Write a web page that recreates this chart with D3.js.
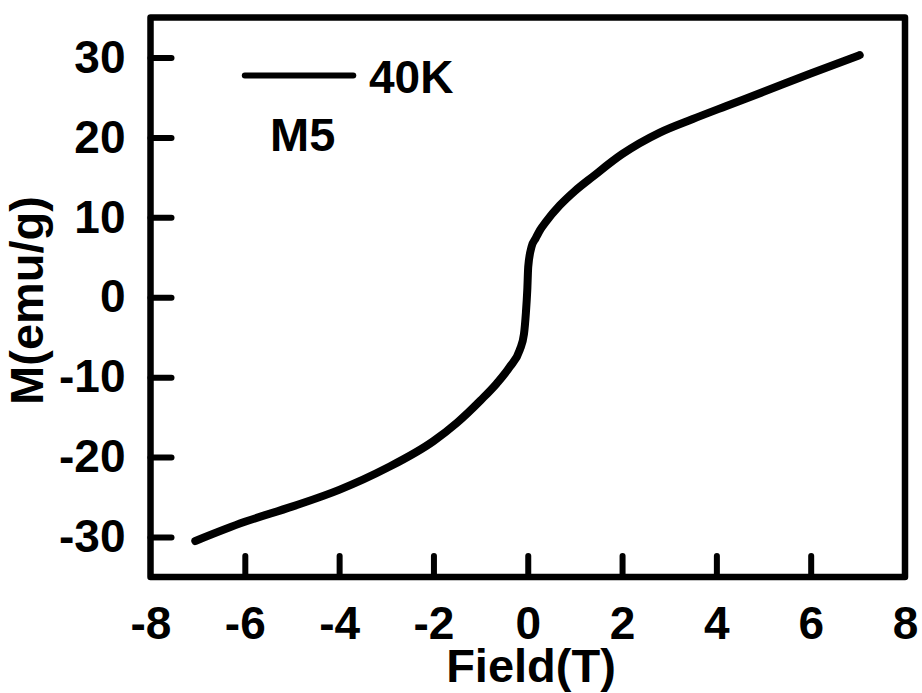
<!DOCTYPE html>
<html lang="en">
<head>
    <meta charset="UTF-8">
    <title>M-H curve M5 40K</title>
    <script src="https://cdnjs.cloudflare.com/ajax/libs/d3/7.8.5/d3.min.js"></script>
    <style>
        body {
            margin: 0;
            background: #fff;
        }
        svg text {
            font-family: "Liberation Sans", Arial, Helvetica, sans-serif;
            font-weight: bold;
            fill: #000;
        }
    </style>
</head>
<body>
    <div id="chart"></div>
    <script>
        const fieldValues = [-7.05, -6, -5, -4, -3, -2, -1.5, -1, -0.66, -0.38, -0.17, -0.08, -0.04, -0.01,
            0.01, 0.08, 0.17, 0.26, 0.38, 0.68, 1, 1.38, 2, 2.8, 3.5, 4.2, 5, 6, 7.04];
        const momentValues = [-30.5, -28.1, -26.2, -24.1, -21.4, -18.0, -15.7, -12.9, -10.8, -8.7, -6.6, -4.6, -2.0, 0.9,
            3.8, 6.3, 7.4, 8.4, 9.4, 11.5, 13.3, 15.1, 17.9, 20.6, 22.3, 23.9, 25.7, 28.0, 30.3];

        const xTicks = [-8, -6, -4, -2, 0, 2, 4, 6, 8];
        const yTicks = [-30, -20, -10, 0, 10, 20, 30];
        const seriesLabel = "40K";
        const sampleLabel = "M5";

        const W = 922, H = 693;
        const margin = {top: 17.5, right: 17, bottom: 116, left: 150.5};

        const svg = d3.select("#chart").append("svg")
            .attr("width", W)
            .attr("height", H);

        const x = d3.scaleLinear().domain([-8, 8]).range([margin.left, W - margin.right]);
        const y = d3.scaleLinear().domain([-35, 35]).range([H - margin.bottom, margin.top]);

        const data = fieldValues.map((f, i) => ({f, m: momentValues[i]}));

        // curve
        const line = d3.line()
            .x(d => x(d.f))
            .y(d => y(d.m))
            .curve(d3.curveMonotoneX);

        svg.append("path")
            .datum(data)
            .attr("fill", "none")
            .attr("stroke", "#000")
            .attr("stroke-width", 8)
            .attr("stroke-linecap", "round")
            .attr("stroke-linejoin", "round")
            .attr("d", line);

        // axes, ticks pointing inward, plain hyphen minus like the original
        const fmt = d => String(d);
        const xAxis = svg.append("g")
            .attr("transform", `translate(0,${y(-35)})`)
            .call(d3.axisBottom(x).tickValues(xTicks).tickFormat(fmt)
                .tickSizeInner(-21).tickSizeOuter(0).tickPadding(29));

        const yAxis = svg.append("g")
            .attr("transform", `translate(${x(-8)},0)`)
            .call(d3.axisLeft(y).tickValues(yTicks).tickFormat(fmt)
                .tickSizeInner(-21).tickSizeOuter(0).tickPadding(25));

        [xAxis, yAxis].forEach(g => {
            g.select(".domain").remove();
            g.selectAll(".tick line")
                .attr("stroke", "#000")
                .attr("stroke-width", 6)
                .attr("stroke-linecap", "round");
            g.selectAll(".tick text")
                .style("font-size", "46px");
        });
        // no tick marks at the frame corners
        xAxis.selectAll(".tick").filter(d => d === -8 || d === 8).select("line").remove();

        // frame
        svg.append("rect")
            .attr("x", x(-8))
            .attr("y", y(35))
            .attr("width", x(8) - x(-8))
            .attr("height", y(-35) - y(35))
            .attr("fill", "none")
            .attr("stroke", "#000")
            .attr("stroke-width", 6.5)
            .attr("stroke-linejoin", "round");

        // axis titles
        svg.append("text")
            .attr("x", 531)
            .attr("y", 682)
            .attr("text-anchor", "middle")
            .style("font-size", "47px")
            .text("Field(T)");

        svg.append("text")
            .attr("transform", `translate(43,${y(-0.4)})rotate(-90)`)
            .attr("text-anchor", "middle")
            .style("font-size", "47px")
            .text("M(emu/g)");

        // legend
        svg.append("line")
            .attr("x1", x(-6)).attr("x2", x(-3.7))
            .attr("y1", y(27.75)).attr("y2", y(27.75))
            .attr("stroke", "#000")
            .attr("stroke-width", 6)
            .attr("stroke-linecap", "round");

        svg.append("text")
            .attr("x", 369)
            .attr("y", 93)
            .style("font-size", "46px")
            .text(seriesLabel);

        svg.append("text")
            .attr("x", 270)
            .attr("y", 151)
            .style("font-size", "47px")
            .text(sampleLabel);
    </script>
</body>
</html>
